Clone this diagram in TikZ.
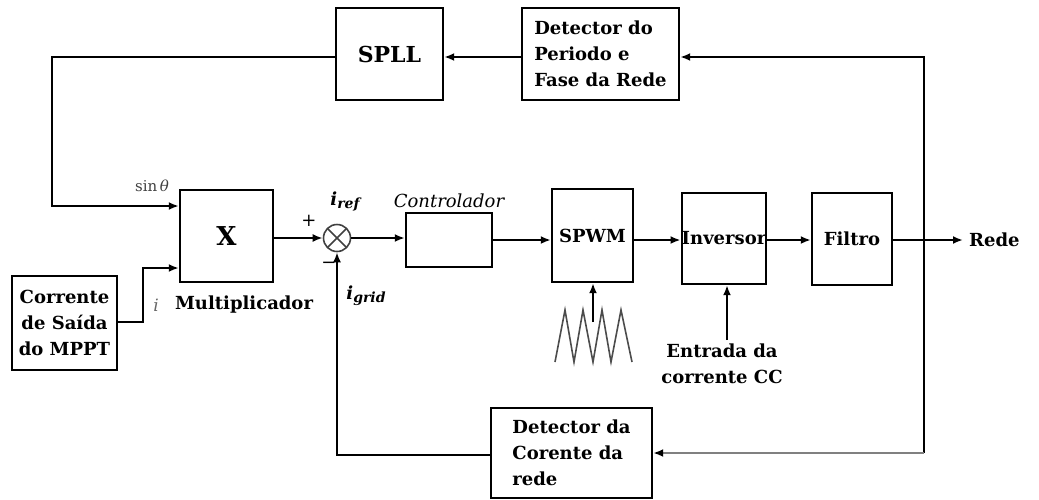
\documentclass[tikz,border=0pt]{standalone}
\usepackage{fontspec}
\setmainfont{DejaVu Serif}
\usetikzlibrary{arrows.meta}
\begin{document}
\begin{tikzpicture}[x=1pt,y=-1pt,
  blk/.style={draw, line width=2.4pt, inner sep=0pt, align=center, font=\bfseries\fontsize{18}{26}\selectfont},
  conn/.style={line width=2.3pt, -{Latex[length=10pt,width=8pt]}},
  lbl/.style={inner sep=0pt, font=\bfseries\fontsize{18}{26}\selectfont},
  sumc/.style={circle, draw=black!75, line width=1.6pt, minimum size=27pt, inner sep=0pt,
    path picture={\draw[black!75, line width=1.6pt]
      (path picture bounding box.north west) -- (path picture bounding box.south east)
      (path picture bounding box.north east) -- (path picture bounding box.south west);}}
]
\useasboundingbox (0,0) rectangle (1039,499);
% blocks
\node[blk, minimum width=107pt, minimum height=92pt, font=\bfseries\fontsize{22}{26}\selectfont] (SPLL) at (389.5,54) {SPLL};
\node[blk, minimum width=157pt, minimum height=92pt, align=left] (DetP) at (600.5,54) {Detector do\\Periodo e\\Fase da Rede};
\node[blk, minimum width=93pt, minimum height=92pt, font=\bfseries\fontsize{26}{26}\selectfont] (X) at (226.5,236) {X};
\node[blk, minimum width=105pt, minimum height=94pt] (MPPT) at (64.5,323) {Corrente\\de Saída\\do MPPT};
\node[blk, minimum width=86pt, minimum height=54pt] (Ctrl) at (449,240) {};
\node[blk, minimum width=81pt, minimum height=93pt] (SPWM) at (592.5,235.5) {SPWM};
\node[blk, minimum width=82pt, minimum height=91pt] (Inv) at (724,238.5) {Inversor};
\node[blk, minimum width=80pt, minimum height=92pt] (Filt) at (852,239) {Filtro};
\node[blk, minimum width=161pt, minimum height=90pt, align=left] (DetC) at (571.5,453) {Detector da\\Corente da\\rede};
\node[sumc] (sum) at (337,238) {};
% labels
\node[inner sep=0pt, font=\itshape\fontsize{18}{20}\selectfont] (ctrllbl) at (449,201) {Controlador};
\node[lbl] (mult) at (244,305) {Multiplicador};
\node[inner sep=0pt, font=\itshape\fontsize{17}{20}\selectfont, text=black!60] (ilbl) at (156,305) {i};
\node[inner sep=0pt, font=\fontsize{15}{18}\selectfont, text=black!75] (sinlbl) at (152,186) {sin\,\textit{θ}};
\node[inner sep=0pt, font=\bfseries\itshape\fontsize{18}{20}\selectfont] (iref) at (345,201) {i\raisebox{-3pt}{\fontsize{14}{14}\selectfont ref}};
\node[inner sep=0pt, font=\bfseries\itshape\fontsize{18}{20}\selectfont] (igrid) at (366,296) {i\raisebox{-3pt}{\fontsize{14}{14}\selectfont grid}};
\node[inner sep=0pt, font=\fontsize{18}{20}\selectfont] (plus) at (309,221) {+};
\node[inner sep=0pt, font=\fontsize{18}{20}\selectfont] (minus) at (329,265) {−};
\node[lbl, anchor=west, inner xsep=6pt] (rede) at (963,240) {Rede};
\node[lbl, align=center] (ent) at (722,364) {Entrada da\\corrente CC};
% coordinates
\coordinate (ml) at (0,240);
\coordinate (top) at (924,57);
\coordinate (bot) at (924,453);
\coordinate (c1) at (52,57);
\coordinate (c2) at (52,206);
\coordinate (m1) at (143,322);
\coordinate (m2) at (143,268);
\coordinate (f1) at (337,455);
\coordinate (w1) at (593,322);
\coordinate (e1) at (727,340);
% connectors
\draw[conn] (X.east |- sum.west) -- (sum.west);
\draw[conn] (sum.east) -- (Ctrl.west |- sum.east);
\draw[conn] (Ctrl.east) -- (SPWM.west |- ml);
\draw[conn] (SPWM.east |- ml) -- (Inv.west |- ml);
\draw[conn] (Inv.east |- ml) -- (Filt.west |- ml);
\draw[conn] (Filt.east |- ml) -- (rede.west);
\draw[conn] (bot) -- (top) -- (DetP.east |- top);
\draw[conn] (DetP.west |- top) -- (SPLL.east |- top);
\draw[conn] (SPLL.west |- top) -- (c1) -- (c2) -- (c2 -| X.west);
\draw[conn] (MPPT.east |- m1) -- (m1) -- (m2) -- (m2 -| X.west);
\draw[line width=2.3pt, draw=black!50, -{Latex[length=10pt,width=8pt,color=black]}] (bot) -- (DetC.east |- bot);
\draw[conn] (DetC.west |- f1) -- (f1) -- (sum.south);
\draw[conn] (w1) -- (w1 |- SPWM.south);
\draw[conn] (e1) -- (e1 |- Inv.south);
% triangle carrier
\draw[black!70, line width=1.6pt, line join=miter] (555,362) -- (565,310) -- (574,362) -- (583,310) -- (593,362) -- (602,310) -- (611,362) -- (621,310) -- (632,362);
\end{tikzpicture}
\end{document}
